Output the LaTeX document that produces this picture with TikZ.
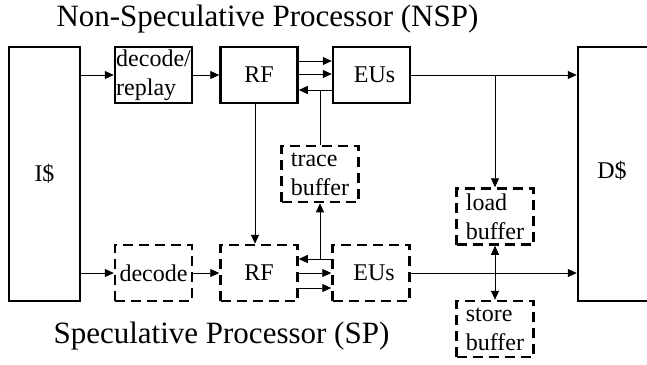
\documentclass[tikz,border=0pt]{standalone}
\usepackage{fontspec}
\setmainfont{Liberation Serif}
\usepackage{tikz}
\usetikzlibrary{shapes,arrows.meta,positioning,calc}

\begin{document}
\begin{tikzpicture}[x=1pt, y=-1pt,
        >={Triangle[length=9pt,width=8pt]},
        unit/.style={draw, line width=2.5pt, minimum width=77pt, minimum height=56pt,
            inner sep=1pt, align=left, font=\fontsize{24}{29}\selectfont},
        specunit/.style={unit, dash pattern=on 10pt off 6pt},
        conn/.style={->, line width=0.8pt},
        wire/.style={line width=0.8pt},
        caption/.style={anchor=base west, font=\fontsize{31}{36}\selectfont}]
            \useasboundingbox (0,0) rectangle (647,364);

            % Caches
            \node[unit, minimum width=71pt, minimum height=254pt] (icache) at (44.5,174) {I\$};
            \node[unit, minimum width=90pt, minimum height=254pt] (dcache) at (623,174) {};
            \node[font=\fontsize{24}{29}\selectfont] (dlabel) at (612,171) {D\$};

            % Non-speculative processor
            \node[unit] (dr) at (153.5,75) {decode/\\replay};
            \node[unit] (rfn) at (259,75) {RF};
            \node[unit] (eun) at (371.5,75) {\ EUs};
            \node[caption] (nsptitle) at (53,26) {Non-Speculative Processor (NSP)};

            % Speculative processor
            \node[specunit] (dec) at (153.5,273) {decode};
            \node[specunit] (rfs) at (259,273) {RF};
            \node[specunit] (eus) at (371,273) {\ EUs};
            \node[caption] (sptitle) at (50,343) {Speculative Processor (SP)};

            % Buffers
            \node[specunit] (tb) at (320,174) {trace\\buffer};
            \node[specunit] (lb) at (495,216.5) {load\\buffer};
            \node[specunit] (sb) at (495,329) {store\\buffer};

            % Fetch and decode
            \draw[conn] (dr.west -| icache.east) -- (dr.west);
            \draw[conn] (dr) -- (rfn);
            \draw[conn] (dec.west -| icache.east) -- (dec.west);
            \draw[conn] (dec) -- (rfs);

            % NSP register file <-> EUs
            \foreach \s in {14,1}
                \draw[conn] ([yshift=\s pt]rfn.east) -- ([yshift=\s pt]rfn.east -| eun.west);
            \draw[conn] ([yshift=-15pt]eun.west) coordinate (nback) -- ([yshift=-15pt]eun.west -| rfn.east);
            \draw[wire] (tb.north) -- (tb.north |- nback);

            % SP register file <-> EUs
            \foreach \s in {0,-15}
                \draw[conn] ([yshift=\s pt]rfs.east) -- ([yshift=\s pt]rfs.east -| eus.west);
            \draw[conn] ([yshift=14pt]eus.west) coordinate (sback) -- ([yshift=14pt]eus.west -| rfs.east);
            \draw[conn] (tb.south |- sback) -- (tb.south);

            % Register file copy
            \draw[conn] ([xshift=-4pt]rfn.south) -- ([xshift=-4pt]rfs.north);

            % Memory
            \draw[conn] (eun) -- (eun -| dcache.west);
            \draw[conn] (eus) -- (eus -| dcache.west);
            \coordinate (ldtap) at (lb.north |- eun.east);
            \draw[conn] (ldtap) -- (lb.north);
            \draw[<->, line width=0.8pt] (lb.south) -- (sb.north);
        \end{tikzpicture}
\end{document}
